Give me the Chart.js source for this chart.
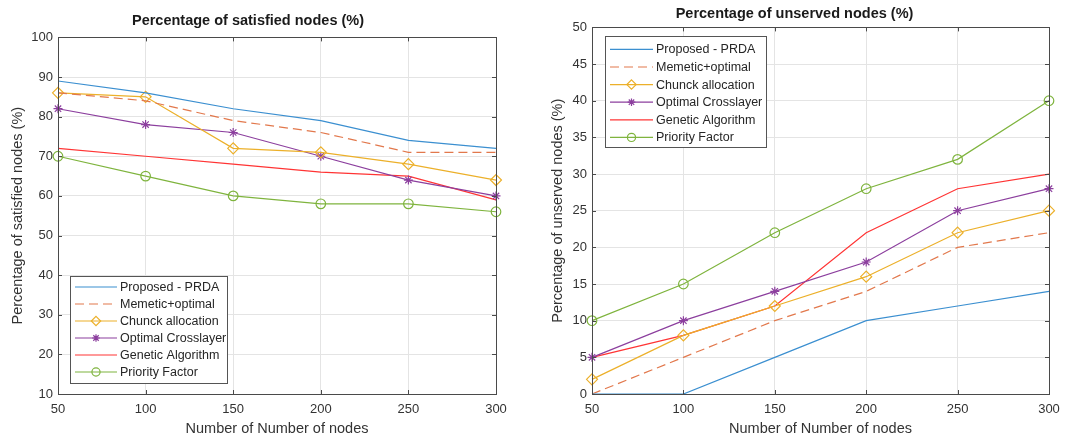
<!DOCTYPE html>
<html lang="en">
<head>
    <meta charset="UTF-8">
    <title>Satisfied and unserved nodes</title>
    <script src="https://cdn.jsdelivr.net/npm/chart.js"></script>
    <style>
        body {
            margin: 0;
            background-color: #fff;
            font-family: "Liberation Sans", Arial, sans-serif;
        }
        .wrap {
            position: relative;
            width: 1075px;
            height: 441px;
        }
        .panel {
            position: absolute;
            top: 0;
            height: 441px;
        }
        #leftPanel { left: 0; width: 540px; }
        #rightPanel { left: 540px; width: 535px; }
    </style>
</head>
<body>
    <div class="wrap">
        <div class="panel" id="leftPanel"><canvas id="satisfiedChart"></canvas></div>
        <div class="panel" id="rightPanel"><canvas id="unservedChart"></canvas></div>
    </div>

    <script>
        // x values (number of nodes)
        const nodeCounts = ['50', '100', '150', '200', '250', '300'];

        const seriesNames = ['Proposed - PRDA', 'Memetic+optimal', 'Chunck allocation',
                             'Optimal Crosslayer', 'Genetic Algorithm', 'Priority Factor'];

        // left chart: satisfied nodes (%)
        const satProposed = [89, 86, 82, 79, 74, 72];
        const satMemetic  = [86, 84, 79, 76, 71, 71];
        const satChunck   = [86, 85, 72, 71, 68, 64];
        const satOptimal  = [82, 78, 76, 70, 64, 60];
        const satGenetic  = [72, 70, 68, 66, 65, 59];
        const satPriority = [70, 65, 60, 58, 58, 56];

        // right chart: unserved nodes (%)
        const unsProposed = [0, 0, 5, 10, 12, 14];
        const unsMemetic  = [0, 5, 10, 14, 20, 22];
        const unsChunck   = [2, 8, 12, 16, 22, 25];
        const unsOptimal  = [5, 10, 14, 18, 25, 28];
        const unsGenetic  = [5, 8, 12, 22, 28, 30];
        const unsPriority = [10, 15, 22, 28, 32, 40];

        const colors = ['#3b8fd0', '#e2784c', '#ecb02a', '#8c3f9e', '#ff3434', '#7fb43e'];
        const dashes = [[], [9, 5], [], [], [], []];
        const markers = [false, false, 'rectRot', 'star', false, 'circle'];
        const markerSize = [0, 0, 5.5, 4.5, 0, 4.8];

        const textColor = '#333';
        const fontFamily = '"Liberation Sans", Arial, sans-serif';

        function buildDatasets(valueLists) {
            return valueLists.map(function(values, i) {
                return {
                    label: seriesNames[i],
                    data: values,
                    borderColor: colors[i],
                    backgroundColor: 'transparent',
                    borderWidth: 1.2,
                    borderDash: dashes[i],
                    pointStyle: markers[i],
                    pointRadius: markerSize[i],
                    pointBorderColor: colors[i],
                    pointBackgroundColor: 'transparent',
                    pointBorderWidth: 1.2,
                    tension: 0,
                    fill: false
                };
            });
        }

        function drawMarker(ctx, style, x, y, r) {
            ctx.beginPath();
            if (style === 'circle') {
                ctx.arc(x, y, r, 0, Math.PI * 2);
            } else if (style === 'rectRot') {
                ctx.moveTo(x, y - r);
                ctx.lineTo(x + r, y);
                ctx.lineTo(x, y + r);
                ctx.lineTo(x - r, y);
                ctx.closePath();
            } else if (style === 'star') {
                for (let k = 0; k < 4; k++) {
                    const a = k * Math.PI / 4;
                    ctx.moveTo(x - r * Math.cos(a), y - r * Math.sin(a));
                    ctx.lineTo(x + r * Math.cos(a), y + r * Math.sin(a));
                }
            }
            ctx.stroke();
        }

        // box around the axes, inward ticks, legend inside the plot
        const axesBox = {
            id: 'axesBox',
            afterDatasetsDraw(chart) {
                const a = chart.chartArea;
                const ctx = chart.ctx;
                ctx.save();
                ctx.strokeStyle = '#4a4a4a';
                ctx.lineWidth = 1;
                ctx.setLineDash([]);
                const xs = chart.scales.x, ys = chart.scales.y;
                ctx.beginPath();
                xs.ticks.forEach(function(t, i) {
                    const px = Math.round(xs.getPixelForTick(i)) + 0.5;
                    ctx.moveTo(px, a.bottom); ctx.lineTo(px, a.bottom - 4);
                    ctx.moveTo(px, a.top); ctx.lineTo(px, a.top + 4);
                });
                ys.ticks.forEach(function(t, i) {
                    const py = Math.round(ys.getPixelForTick(i)) + 0.5;
                    ctx.moveTo(a.left, py); ctx.lineTo(a.left + 4, py);
                    ctx.moveTo(a.right, py); ctx.lineTo(a.right - 4, py);
                });
                ctx.stroke();
                ctx.strokeRect(Math.round(a.left) + 0.5, Math.round(a.top) + 0.5,
                               Math.round(a.right - a.left), Math.round(a.bottom - a.top));
                ctx.restore();
            },
            afterDraw(chart, args, opts) {
                const a = chart.chartArea;
                const ctx = chart.ctx;
                const bx = a.left + opts.dx;
                const by = opts.fromBottom ? a.bottom - opts.dy - opts.h : a.top + opts.dy;
                ctx.save();
                ctx.fillStyle = '#fff';
                ctx.fillRect(bx, by, opts.w, opts.h);
                ctx.strokeStyle = '#555';
                ctx.lineWidth = 1;
                ctx.strokeRect(Math.round(bx) + 0.5, Math.round(by) + 0.5, opts.w, opts.h);
                ctx.font = opts.fontSize + 'px ' + fontFamily;
                ctx.textBaseline = 'middle';
                chart.data.datasets.forEach(function(ds, i) {
                    const y = by + opts.firstRow + i * opts.rowH;
                    const x0 = bx + 5, x1 = x0 + opts.lineLen;
                    ctx.strokeStyle = ds.borderColor;
                    ctx.lineWidth = 1.2;
                    ctx.setLineDash(ds.borderDash);
                    ctx.beginPath();
                    ctx.moveTo(x0, y); ctx.lineTo(x1, y);
                    ctx.stroke();
                    ctx.setLineDash([]);
                    if (ds.pointStyle) {
                        drawMarker(ctx, ds.pointStyle, (x0 + x1) / 2, y, ds.pointRadius * 0.85);
                    }
                    ctx.fillStyle = '#262626';
                    ctx.fillText(ds.label, x1 + 3, y + 0.5);
                });
                ctx.restore();
            }
        };

        function makeChart(canvasId, values, cfg) {
            return new Chart(document.getElementById(canvasId), {
                type: 'line',
                data: { labels: nodeCounts, datasets: buildDatasets(values) },
                plugins: [axesBox],
                options: {
                    responsive: true,
                    maintainAspectRatio: false,
                    animation: false,
                    layout: { padding: { left: 0, right: cfg.padRight, top: 0, bottom: 0 } },
                    plugins: {
                        legend: { display: false },
                        tooltip: { enabled: false },
                        title: {
                            display: true,
                            text: cfg.title,
                            color: '#1a1a1a',
                            font: { family: fontFamily, size: 14.5, weight: 'bold' },
                            padding: cfg.titlePad
                        },
                        axesBox: cfg.legend
                    },
                    scales: {
                        x: {
                            type: 'category',
                            offset: false,
                            grid: { color: '#e4e4e4', drawTicks: false },
                            border: { display: false },
                            ticks: { color: textColor, padding: 8, font: { family: fontFamily, size: 13 } },
                            title: {
                                display: true,
                                text: 'Number of Number of nodes',
                                color: textColor,
                                font: { family: fontFamily, size: 14.5 },
                                padding: { top: 0, bottom: 3 }
                            },
                            afterFit(scale) { scale.height = 47; }
                        },
                        y: {
                            min: cfg.yMin,
                            max: cfg.yMax,
                            grid: { color: '#e4e4e4', drawTicks: false },
                            border: { display: false },
                            ticks: { stepSize: cfg.yStep, color: textColor, padding: 5,
                                     font: { family: fontFamily, size: 13 } },
                            title: {
                                display: true,
                                text: cfg.yTitle,
                                color: textColor,
                                font: { family: fontFamily, size: 14.5 },
                                padding: { top: 9, bottom: 0 }
                            },
                            afterFit(scale) { scale.width = cfg.yWidth; }
                        }
                    }
                }
            });
        }

        makeChart('satisfiedChart',
            [satProposed, satMemetic, satChunck, satOptimal, satGenetic, satPriority], {
            title: 'Percentage of satisfied nodes (%)',
            titlePad: { top: 12, bottom: 8 },
            yTitle: 'Percentage of satisfied nodes (%)',
            yMin: 10, yMax: 100, yStep: 10,
            yWidth: 58, padRight: 44,
            legend: { dx: 12, dy: 11, fromBottom: true, w: 157, h: 107,
                      firstRow: 11, rowH: 17, lineLen: 42, fontSize: 12.5 }
        });

        makeChart('unservedChart',
            [unsProposed, unsMemetic, unsChunck, unsOptimal, unsGenetic, unsPriority], {
            title: 'Percentage of unserved nodes (%)',
            titlePad: { top: 5, bottom: 5 },
            yTitle: 'Percentage of unserved nodes (%)',
            yMin: 0, yMax: 50, yStep: 5,
            yWidth: 52, padRight: 26,
            legend: { dx: 13, dy: 9, fromBottom: false, w: 161, h: 111,
                      firstRow: 13, rowH: 17.6, lineLen: 43, fontSize: 12.5 }
        });
    </script>
</body>
</html>
